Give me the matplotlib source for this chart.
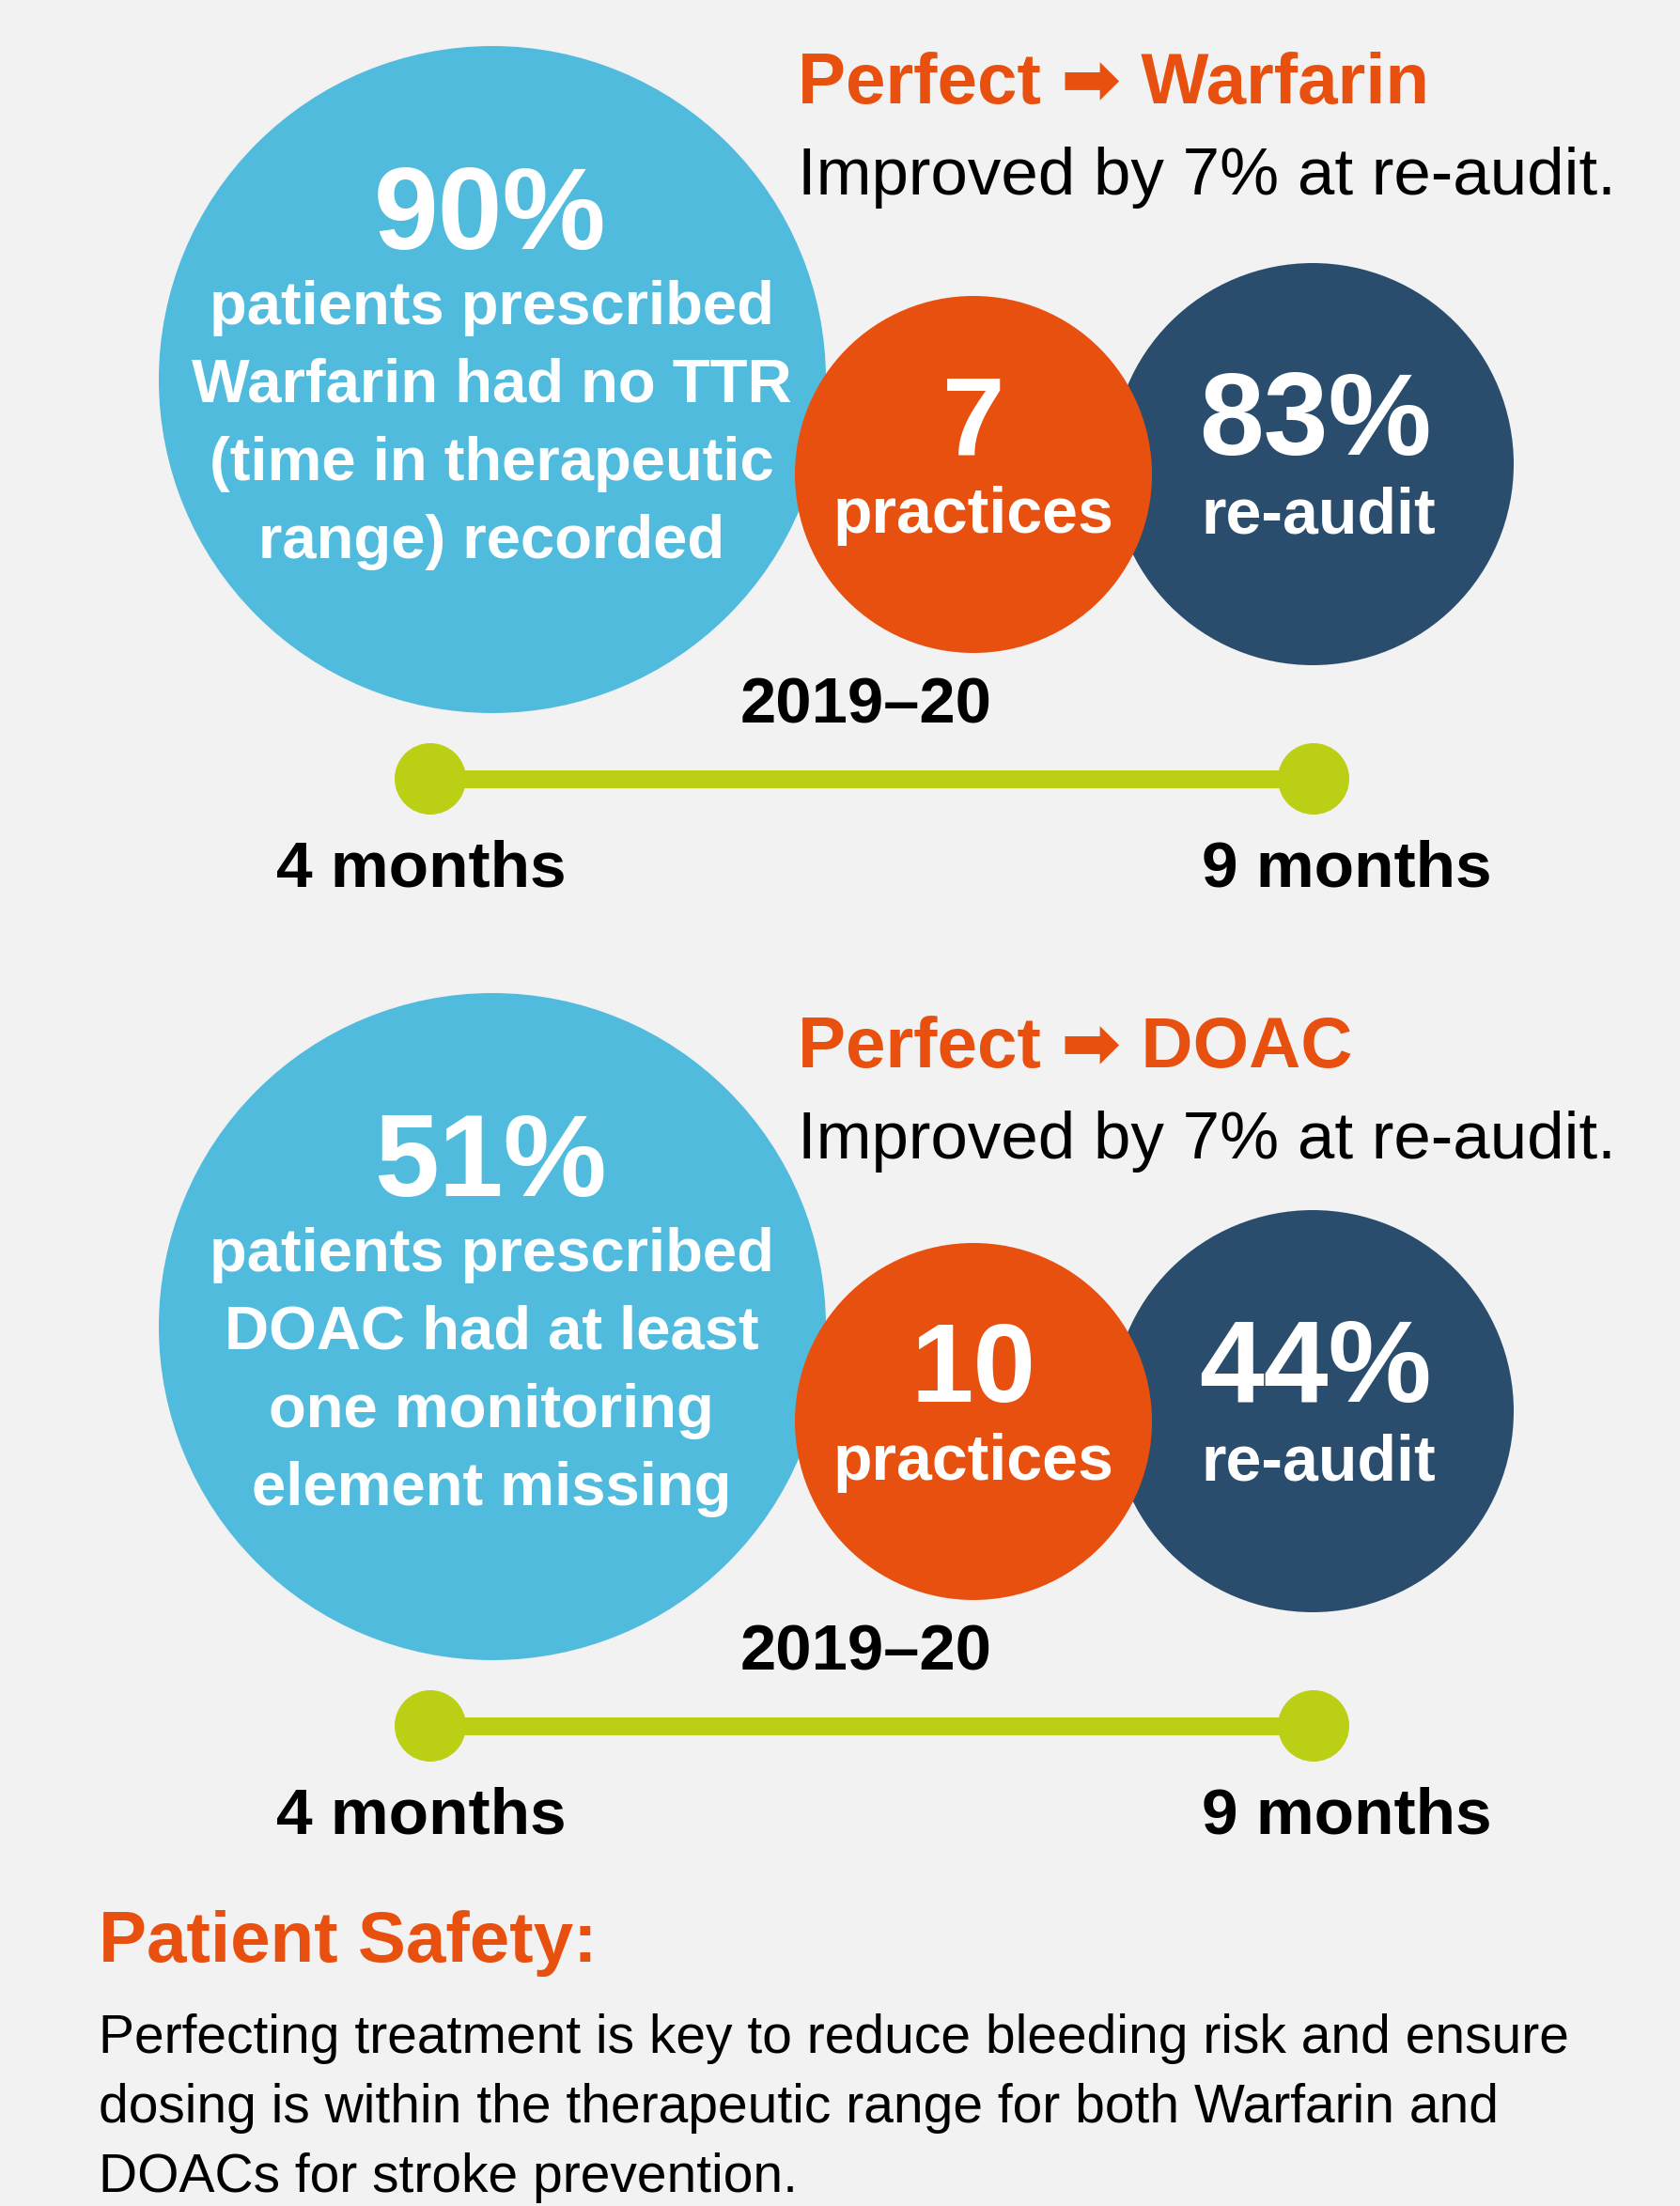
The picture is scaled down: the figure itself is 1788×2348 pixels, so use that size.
import matplotlib
matplotlib.use("Agg")
import matplotlib.pyplot as plt
from matplotlib.patches import Circle

# --- data ---
drugs = ["Warfarin", "DOAC"]
improvement = [7, 7]
baseline_pct = [90, 51]
baseline_text = [
    ["patients prescribed", "Warfarin had no TTR", "(time in therapeutic", "range) recorded"],
    ["patients prescribed", "DOAC had at least", "one monitoring", "element missing"],
]
practices = [7, 10]
reaudit_pct = [83, 44]
period = "2019\u201320"
timeline_labels = ["4 months", "9 months"]
footer_title = "Patient Safety:"
footer_lines = [
    "Perfecting treatment is key to reduce bleeding risk and ensure",
    "dosing is within the therapeutic range for both Warfarin and",
    "DOACs for stroke prevention.",
]

# --- style ---
BG = "#f2f2f2"
BLUE = "#51bbde"
ORANGE = "#e85010"
NAVY = "#2a4d6e"
GREEN = "#bbcf15"
FONT = ["Liberation Sans", "DejaVu Sans"]

W, H = 1788, 2348
fig = plt.figure(figsize=(W / 100, H / 100), dpi=100)
fig.patch.set_facecolor(BG)
ax = fig.add_axes([0, 0, 1, 1])
ax.set_xlim(0, W)
ax.set_ylim(H, 0)
ax.set_aspect("equal")
ax.axis("off")

circle_offset = [0, 1008]
head_offset = [0, 1026]


def txt(x, y, s, size, color="white", weight="bold", ha="center"):
    ax.text(x, y, s, fontsize=size, color=color, fontweight=weight,
            ha=ha, va="baseline", family=FONT)


for i, drug in enumerate(drugs):
    dy = circle_offset[i]
    hy = head_offset[i]

    # heading
    txt(849, 110 + hy, "Perfect \u27a1 " + drug, 55, color=ORANGE, ha="left")
    txt(849, 207 + hy, f"Improved by {improvement[i]}% at re-audit.", 51,
        color="black", weight="normal", ha="left")

    # circles
    ax.add_patch(Circle((524, 404 + dy), 355, color=BLUE, lw=0, zorder=1))
    ax.add_patch(Circle((1397, 494 + dy), 214, color=NAVY, lw=0, zorder=2))
    ax.add_patch(Circle((1036, 505 + dy), 190, color=ORANGE, lw=0, zorder=3))

    # big circle text
    txt(522, 265 + dy, f"{baseline_pct[i]}%", 89)
    for j, line in enumerate(baseline_text[i]):
        txt(523, 345 + 83 * j + dy, line, 47)

    # practices / re-audit
    txt(1036, 484 + dy, str(practices[i]), 86)
    txt(1036, 567 + dy, "practices", 49)
    txt(1400, 484 + dy, f"{reaudit_pct[i]}%", 89)
    txt(1403, 567 + dy, "re-audit", 49)

    # period + timeline
    txt(922, 770 + dy, period, 49.5, color="black")
    ax.plot([458, 1398], [829 + dy, 829 + dy], color=GREEN, lw=13.7,
            solid_capstyle="butt", zorder=1)
    for x in (458, 1398):
        ax.add_patch(Circle((x, 829 + dy), 38, color=GREEN, lw=0, zorder=2))
    txt(448, 943 + dy, timeline_labels[0], 50, color="black")
    txt(1433, 943 + dy, timeline_labels[1], 50, color="black")

# footer
txt(105, 2088, footer_title, 55, color=ORANGE, ha="left")
for j, line in enumerate(footer_lines):
    txt(105, 2185 + 74 * j, line, 41, color="black", weight="normal", ha="left")

fig.savefig("out.png", dpi=100, facecolor=BG)
